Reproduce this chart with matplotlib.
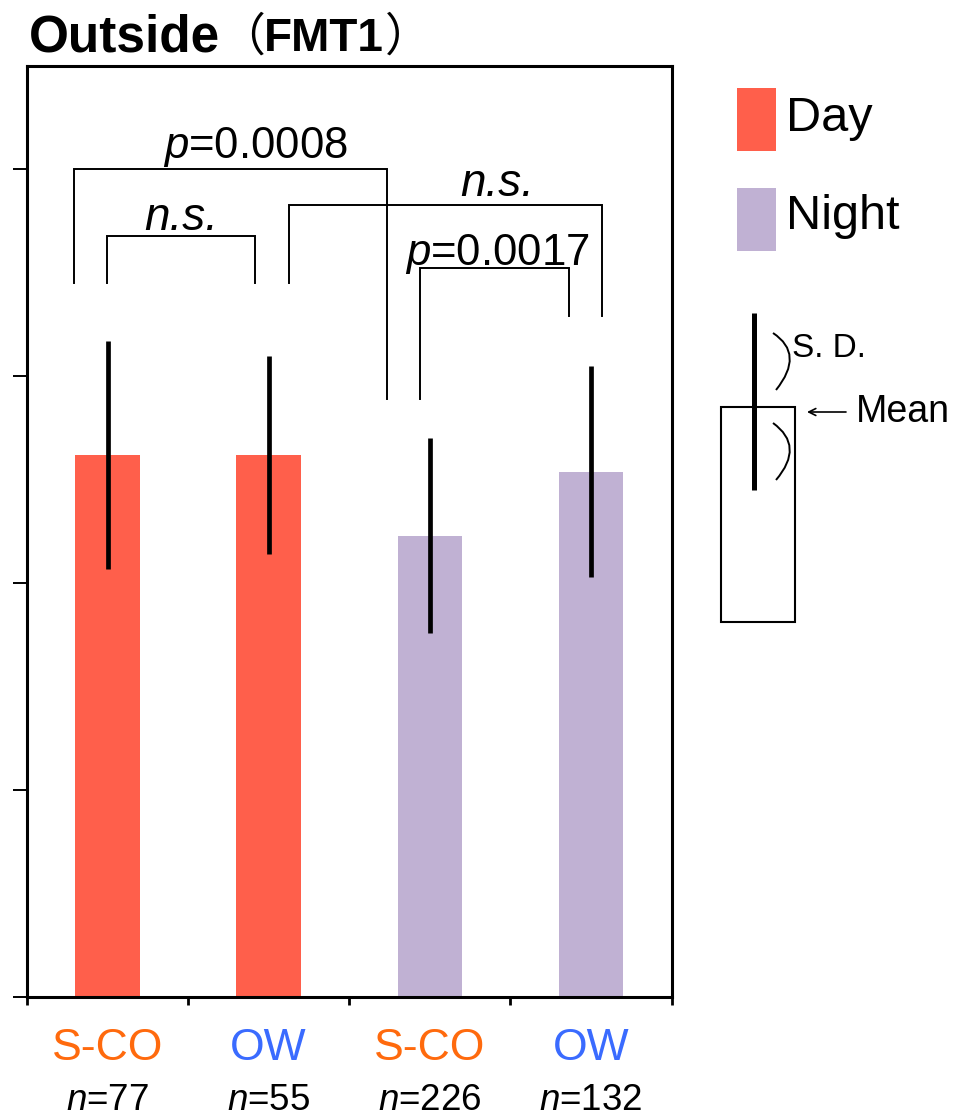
import matplotlib

matplotlib.use("Agg")

import matplotlib.pyplot as plt
import matplotlib.transforms as mtransforms
import numpy as np
from matplotlib.patches import PathPatch, Rectangle
from matplotlib.path import Path

plt.rcParams["font.family"] = ["Liberation Sans", "DejaVu Sans"]
plt.rcParams["mathtext.fontset"] = "custom"
plt.rcParams["mathtext.rm"] = "Liberation Sans"
plt.rcParams["mathtext.it"] = "Liberation Sans:italic"

# data
groups = ["S-CO", "OW", "S-CO", "OW"]
periods = ["Day", "Day", "Night", "Night"]
n_sizes = [77, 55, 226, 132]
means = [2.62, 2.62, 2.23, 2.54]
sds = [0.55, 0.48, 0.47, 0.51]

# significance brackets: x left, x right, top, left leg end, right leg end
brackets = [
    (-0.21, 1.736, 4.00, 3.45, 2.89),
    (-0.006, 0.915, 3.68, 3.45, 3.45),
    (1.123, 3.07, 3.83, 3.45, 3.29),
    (1.94, 2.863, 3.525, 2.89, 3.29),
]
bracket_labels = ["$p$=0.0008", "n.s.", "n.s.", "$p$=0.0017"]
label_pos = [(0.92, 4.054), (0.46, 3.705), (2.42, 3.87), (2.42, 3.537)]

period_colors = {"Day": "#FF5F4B", "Night": "#C0B1D3"}
group_colors = {"S-CO": "#FF6A0D", "OW": "#3A6BFF"}

W, H = 973, 1117


def main() -> int:
    fig = plt.figure(figsize=(W / 100, H / 100), dpi=100)
    ax = fig.add_axes([27 / W, 1 - 997 / H, 644.5 / W, 931 / H])

    x = np.arange(len(means))
    ax.bar(x, means, width=0.4, color=[period_colors[p] for p in periods], zorder=2)
    ax.errorbar(x, means, yerr=sds, fmt="none", ecolor="black",
                elinewidth=3.4, capsize=0, zorder=3)

    ax.set_xlim(-0.5, 3.5)
    ax.set_ylim(0, 4.5)
    ax.set_yticks(np.arange(0, 5))
    ax.set_xticks(np.arange(-0.5, 4.0, 1.0))
    ax.tick_params(axis="y", direction="out", length=10, width=1.4, labelleft=False)
    ax.tick_params(axis="x", direction="out", length=5.5, width=2.0, labelbottom=False)
    for spine in ax.spines.values():
        spine.set_linewidth(2.2)

    for (xl, xr, top, yl, yr), lab, (tx, ty) in zip(brackets, bracket_labels, label_pos):
        ax.plot([xl, xl, xr, xr], [yl, top, top, yr], color="black", lw=1.4,
                solid_joinstyle="miter", zorder=4)
        style = "italic" if lab == "n.s." else "normal"
        size = 33 if lab == "n.s." else 31.5
        ax.text(tx, ty, lab, ha="center", va="baseline", fontsize=size,
                fontstyle=style, zorder=5)

    # overlay in pixel coordinates for title, legend and key
    key = fig.add_axes([0, 0, 1, 1])
    key.set_xlim(0, W)
    key.set_ylim(H, 0)
    key.axis("off")
    key.patch.set_alpha(0)

    # title
    key.text(29, 51, "Outside", fontsize=37, weight="bold", va="baseline")
    key.text(219, 51, "（", fontsize=33, family=["Noto Sans CJK JP"],
             va="baseline", ha="left")
    key.text(264, 51, "FMT1", fontsize=33, weight="bold", va="baseline")
    key.text(385, 51, "）", fontsize=33, family=["Noto Sans CJK JP"],
             va="baseline", ha="left")

    # category labels under the axis
    tr = mtransforms.blended_transform_factory(ax.transData, key.transData)
    for i, (g, n) in enumerate(zip(groups, n_sizes)):
        ax.text(i, 1060, g, transform=tr, ha="center", va="baseline",
                fontsize=32, color=group_colors[g], clip_on=False)
        ax.text(i, 1110, f"$n$={n}", transform=tr, ha="center", va="baseline",
                fontsize=26.5, clip_on=False)

    # legend
    for name, y0, base in [("Day", 88, 131), ("Night", 188, 229)]:
        key.add_patch(Rectangle((737, y0), 39, 63, color=period_colors[name], lw=0))
        key.text(786, base, name, fontsize=35, va="baseline")

    # mean / S.D. key
    key.add_patch(Rectangle((721, 407), 74, 215, fill=False, ec="black", lw=1.5))
    key.plot([754, 754], [313, 490], color="black", lw=3.6, solid_capstyle="butt")
    for p0, c, p2 in [((773, 333), (805, 354), (776, 390)),
                      ((773, 423), (805, 446), (776, 480))]:
        path = Path([p0, c, p2], [Path.MOVETO, Path.CURVE3, Path.CURVE3])
        key.add_patch(PathPatch(path, fill=False, ec="black", lw=1.4))
    key.text(792, 357, "S. D.", fontsize=24, va="baseline")
    key.annotate("", xy=(807, 412), xytext=(846, 412),
                 arrowprops=dict(arrowstyle="->,head_length=0.5,head_width=0.25",
                                 lw=1.2, color="black", shrinkA=0, shrinkB=0))
    key.text(856, 422, "Mean", fontsize=27, va="baseline")

    fig.savefig("out.png", dpi=100)
    plt.close(fig)
    return 0


if __name__ == "__main__":
    raise SystemExit(main())
